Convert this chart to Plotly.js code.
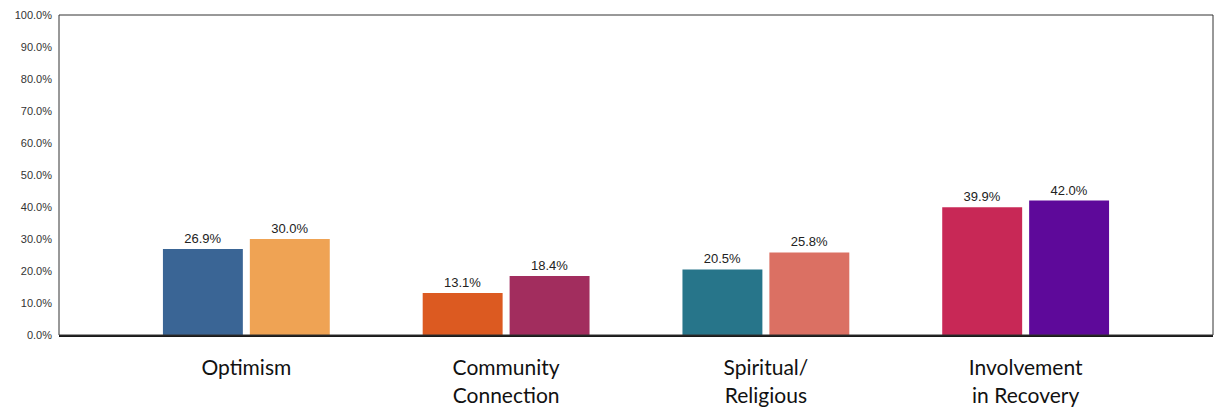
<!DOCTYPE html>
<html>
<head>
<meta charset="utf-8">
<script src="https://cdn.plot.ly/plotly-3.0.1.min.js"></script>
<style>html,body{margin:0;padding:0;background:#fff}#chart{width:1221px;height:410px}</style>
</head>
<body>
<div id="chart"></div>
<script>
const categories = ["Optimism", "Community<br>Connection", "Spiritual/<br>Religious", "Involvement<br>in Recovery"];
const seriesA = [26.9, 13.1, 20.5, 39.9];
const seriesB = [30.0, 18.4, 25.8, 42.0];
const colorsA = ["#3A6595", "#DC5A21", "#27758A", "#C82856"];
const colorsB = ["#EFA354", "#A22D5E", "#DB7063", "#5E099A"];
const yTicks = [0, 10, 20, 30, 40, 50, 60, 70, 80, 90, 100];

const idx = categories.map((c, i) => i);
const common = {
  type: "bar",
  x: idx,
  textposition: "outside",
  texttemplate: "%{y:.1f}%",
  textfont: {family: "Liberation Sans, Arial, sans-serif", size: 13, color: "#222"},
  cliponaxis: false,
  hoverinfo: "skip"
};
const traces = [
  Object.assign({}, common, {y: seriesA, marker: {color: colorsA}}),
  Object.assign({}, common, {y: seriesB, marker: {color: colorsB}})
];

const layout = {
  width: 1221, height: 410,
  margin: {l: 59, r: 8, t: 15, b: 75},
  paper_bgcolor: "#fff", plot_bgcolor: "#fff",
  showlegend: false,
  barmode: "group",
  bargap: 0.3308,
  bargroupgap: 0.0805,
  xaxis: {
    range: [-0.7212, 3.7212],
    tickmode: "array",
    tickvals: idx,
    ticktext: categories,
    tickfont: {family: "Lato, Carlito, sans-serif", size: 21, color: "#111"},
    showgrid: false, zeroline: false,
    showline: true, linecolor: "#1a1a1a", linewidth: 2,
    ticks: "", ticklabelstandoff: 13
  },
  yaxis: {
    range: [0, 100],
    tickmode: "array",
    tickvals: yTicks,
    ticktext: yTicks.map(v => v.toFixed(1) + "%"),
    tickfont: {family: "Liberation Sans, Arial, sans-serif", size: 11, color: "#333"},
    showgrid: false, zeroline: false,
    showline: false, ticks: "", ticklabelstandoff: 6
  },
  shapes: [{
    type: "rect", xref: "paper", yref: "paper",
    x0: 0, x1: 1, y0: 0, y1: 1,
    line: {color: "#333", width: 1}, fillcolor: "rgba(0,0,0,0)", layer: "above"
  }]
};

Plotly.newPlot("chart", traces, layout, {staticPlot: true, displayModeBar: false});
</script>
</body>
</html>
